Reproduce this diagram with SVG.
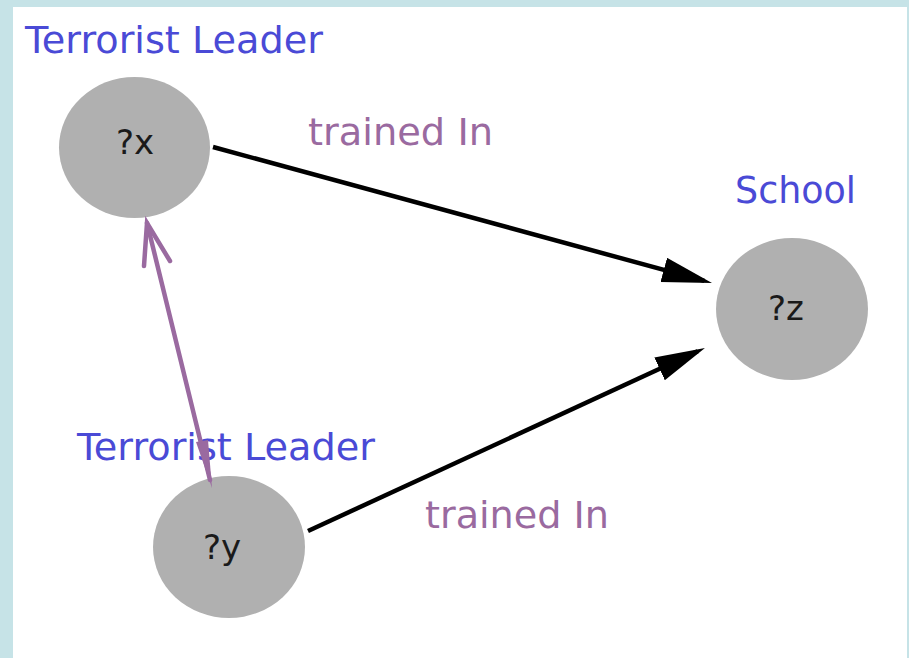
<svg xmlns="http://www.w3.org/2000/svg" width="909" height="658" viewBox="0 0 909 658">
  <style>
    .node { fill: #b0b0b0; }
    .var { font-family: "DejaVu Sans", Verdana, sans-serif; font-size: 34px; fill: #1a1a1a; text-anchor: middle; }
    .cls { font-family: "DejaVu Sans", Verdana, sans-serif; font-size: 38px; fill: #4a4ad6; }
    .rel { font-family: "DejaVu Sans", Verdana, sans-serif; font-size: 38px; fill: #9a6aa0; }
    .edge { stroke: #000; stroke-width: 4.5; fill: none; }
    .link { stroke: #9a6aa0; stroke-width: 4.5; fill: none; stroke-linecap: round; }
  </style>
  <defs>
    <marker id="head" markerUnits="userSpaceOnUse" markerWidth="52" markerHeight="27" refX="42" refY="12.5" orient="auto">
      <path d="M0,0 L50,12.5 L0,25 Z" fill="#000"/>
    </marker>
  </defs>

  <!-- frame -->
  <rect x="0" y="0" width="909" height="658" fill="#c6e3e7"/>
  <rect x="13" y="7" width="894" height="651" fill="#ffffff"/>

  <!-- nodes -->
  <g id="node-x">
    <ellipse class="node" cx="134.5" cy="147.5" rx="75.5" ry="70.5"/>
    <text class="var" x="135" y="154">?x</text>
    <text class="cls" x="25" y="53" textLength="298" lengthAdjust="spacingAndGlyphs">Terrorist Leader</text>
  </g>
  <g id="node-y">
    <ellipse class="node" cx="229" cy="547" rx="76" ry="71"/>
    <text class="var" x="222" y="559">?y</text>
    <text class="cls" x="77" y="460" textLength="298" lengthAdjust="spacingAndGlyphs">Terrorist Leader</text>
  </g>
  <g id="node-z">
    <ellipse class="node" cx="792" cy="309" rx="76" ry="71"/>
    <text class="var" x="786" y="320">?z</text>
    <text class="cls" x="735" y="203" textLength="121" lengthAdjust="spacingAndGlyphs">School</text>
  </g>

  <!-- connectors -->
  <g id="connectors">
    <line class="edge" x1="213" y1="147" x2="704.3" y2="280.9" marker-end="url(#head)"/>
    <line class="edge" x1="308" y1="531" x2="697.7" y2="351.3" marker-end="url(#head)"/>
    <line class="link" x1="147" y1="223" x2="210" y2="480"/>
    <path class="link" d="M144,266 L147,223 L170,261"/>
    <path d="M196,442 L208,440 L212,488 Z" fill="#9a6aa0"/>
    <text class="rel" x="308" y="145" textLength="185" lengthAdjust="spacingAndGlyphs">trained In</text>
    <text class="rel" x="425" y="528" textLength="184" lengthAdjust="spacingAndGlyphs">trained In</text>
  </g>
</svg>
